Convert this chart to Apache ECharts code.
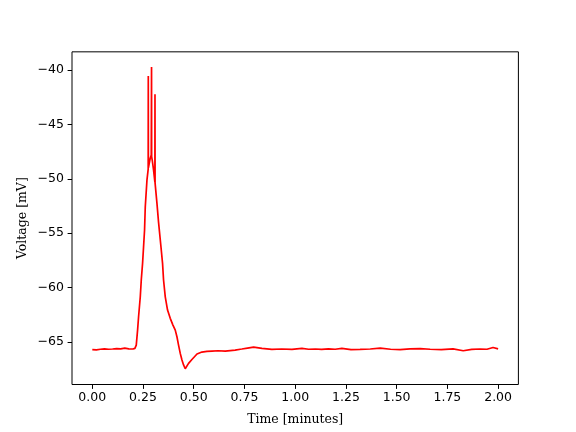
<!DOCTYPE html>
<html>
<head>
<meta charset="utf-8">
<script src="https://cdn.jsdelivr.net/npm/echarts@6/dist/echarts.min.js"></script>
<style>html,body{margin:0;padding:0;background:#fff}#c{width:576px;height:432px}</style>
</head>
<body>
<div id="c"></div>
<script>
// Time [minutes]
const times = [
  0.00, 0.02, 0.04, 0.06, 0.08, 0.10, 0.12, 0.14, 0.16, 0.18, 0.20, 0.21,
  0.2167, 0.2232, 0.2281, 0.2365, 0.2414, 0.2478, 0.2527, 0.2576, 0.2611, 0.2695,
  0.2755, 0.276, 0.2765, 0.2773, 0.2857, 0.2906,
  0.2915, 0.292, 0.2925, 0.2956, 0.302,
  0.3085, 0.309, 0.3095, 0.3103, 0.3187, 0.3266, 0.3384, 0.3463, 0.3512, 0.3596,
  0.3709, 0.3842, 0.3975, 0.4089, 0.4172, 0.4251, 0.4335, 0.4419, 0.4498, 0.4581,
  0.4744, 0.491, 0.516, 0.540, 0.565, 0.590, 0.620, 0.655, 0.680, 0.704, 0.737,
  0.765, 0.795, 0.836, 0.885, 0.934, 0.984, 1.033, 1.066, 1.099, 1.130, 1.164,
  1.197, 1.230, 1.275, 1.320, 1.370, 1.419, 1.470, 1.517, 1.566, 1.616, 1.665,
  1.720, 1.778, 1.828, 1.870, 1.911, 1.945, 1.975, 2.00
];
// Voltage [mV]
const volts = [
  -65.70, -65.72, -65.66, -65.62, -65.66, -65.64, -65.60, -65.62, -65.56, -65.62, -65.64, -65.58,
  -65.28, -63.90, -62.67, -60.84, -59.30, -57.77, -56.24, -54.70, -52.56, -50.10,
  -49.10, -40.55, -49.00, -48.90, -48.10, -47.80,
  -47.85, -39.72, -47.95, -48.30, -49.20,
  -50.30, -42.23, -50.40, -50.50, -52.25, -54.00, -56.24, -57.77, -59.30, -60.84,
  -62.06, -62.82, -63.44, -63.90, -64.51, -65.28, -66.04, -66.65, -67.10, -67.45,
  -66.96, -66.60, -66.10, -65.92, -65.86, -65.83, -65.80, -65.83, -65.78, -65.74, -65.64,
  -65.55, -65.46, -65.58, -65.67, -65.64, -65.67, -65.58, -65.66, -65.64, -65.68, -65.62,
  -65.66, -65.58, -65.70, -65.68, -65.64, -65.55, -65.66, -65.70, -65.62, -65.60, -65.66,
  -65.70, -65.62, -65.80, -65.68, -65.64, -65.66, -65.50, -65.62
];
const xTicks = [0, 0.25, 0.5, 0.75, 1.0, 1.25, 1.5, 1.75, 2.0];
const yTicks = [-65, -60, -55, -50, -45, -40];

const data = times.map((t, i) => [t, volts[i]]);
const minus = s => String(s).replace('-', '\u2212');

const chart = echarts.init(document.getElementById('c'), null, {renderer: 'canvas'});
chart.setOption({
  animation: false,
  backgroundColor: '#fff',
  grid: {left: 72, right: 57.6, top: 51.84, bottom: 47.5, show: true, borderColor: '#000', borderWidth: 1, backgroundColor: 'transparent'},
  xAxis: {
    type: 'value', min: -0.1, max: 2.1,
    name: 'Time [minutes]', nameLocation: 'middle', nameGap: 29, nameMoveOverlap: false,
    nameTextStyle: {fontFamily: 'DejaVu Serif', fontSize: 12.5, color: '#000'},
    axisLine: {show: false, onZero: false},
    splitLine: {show: false},
    axisTick: {show: true, length: 4.4, inside: false, lineStyle: {color: '#000', width: 1}, customValues: xTicks},
    axisLabel: {customValues: xTicks, margin: 7, fontFamily: 'DejaVu Sans', fontSize: 12.5, color: '#000',
      formatter: v => minus(Number(v).toFixed(2))}
  },
  yAxis: {
    type: 'value', min: -68.9, max: -38.33,
    name: 'Voltage [mV]', nameLocation: 'middle', nameGap: 43, nameRotate: 90, nameMoveOverlap: false,
    nameTextStyle: {fontFamily: 'DejaVu Serif', fontSize: 12.5, color: '#000'},
    axisLine: {show: false, onZero: false},
    splitLine: {show: false},
    axisTick: {show: true, length: 4.4, inside: false, lineStyle: {color: '#000', width: 1}, customValues: yTicks},
    axisLabel: {customValues: yTicks, margin: 8, fontFamily: 'DejaVu Sans', fontSize: 12.5, color: '#000',
      formatter: v => minus(Math.round(v))}
  },
  series: [{
    type: 'line', data: data, showSymbol: false, symbol: 'none',
    lineStyle: {color: '#ff0000', width: 1.7},
    clip: true
  }]
});
</script>
</body>
</html>
